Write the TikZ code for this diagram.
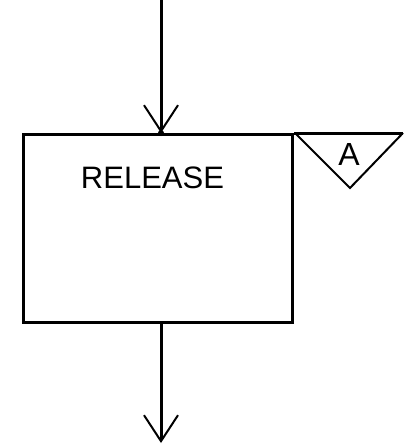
\documentclass[tikz,border=0pt]{standalone}
\usepackage{fontspec}
\setmainfont{Liberation Sans}
\usetikzlibrary{arrows.meta}
\begin{document}
\begin{tikzpicture}[x=1pt,y=1pt,
  flowline/.style={line width=3pt,-{Straight Barb[length=26pt,width=34pt,line width=2pt]}},
  procbox/.style={draw,line width=3pt,minimum width=269pt,minimum height=188pt,inner sep=0pt},
  boxtext/.style={font=\fontsize{31}{31}\selectfont,inner sep=0pt},
  tagline/.style={line width=2pt,line join=miter}]
  \useasboundingbox (0,0) rectangle (404,-447);

  % process box
  \node[procbox,anchor=north west] (release) at (22,-133) {};
  \node[boxtext] (label) at (152.5,-178) {RELEASE};

  % incoming and outgoing flow
  \coordinate (src) at (161,0);
  \coordinate (dst) at (161,-443);
  \draw[flowline] (src) -- (src |- release.north);
  \fill (src |- release.north) circle (3pt);
  \draw[flowline] (src |- release.south) -- (dst);

  % tag triangle on the box's top edge
  \coordinate (tl) at (295,-133);
  \coordinate (tr) at (403,-133);
  \coordinate (tb) at (350,-188);
  \draw[line width=3pt] (release.north east) -- (tr);
  \draw[tagline] (tl) -- (tb) -- (tr);
  \node[font=\fontsize{32}{32}\selectfont,inner sep=0pt] (tag) at (349,-154) {A};
\end{tikzpicture}
\end{document}
